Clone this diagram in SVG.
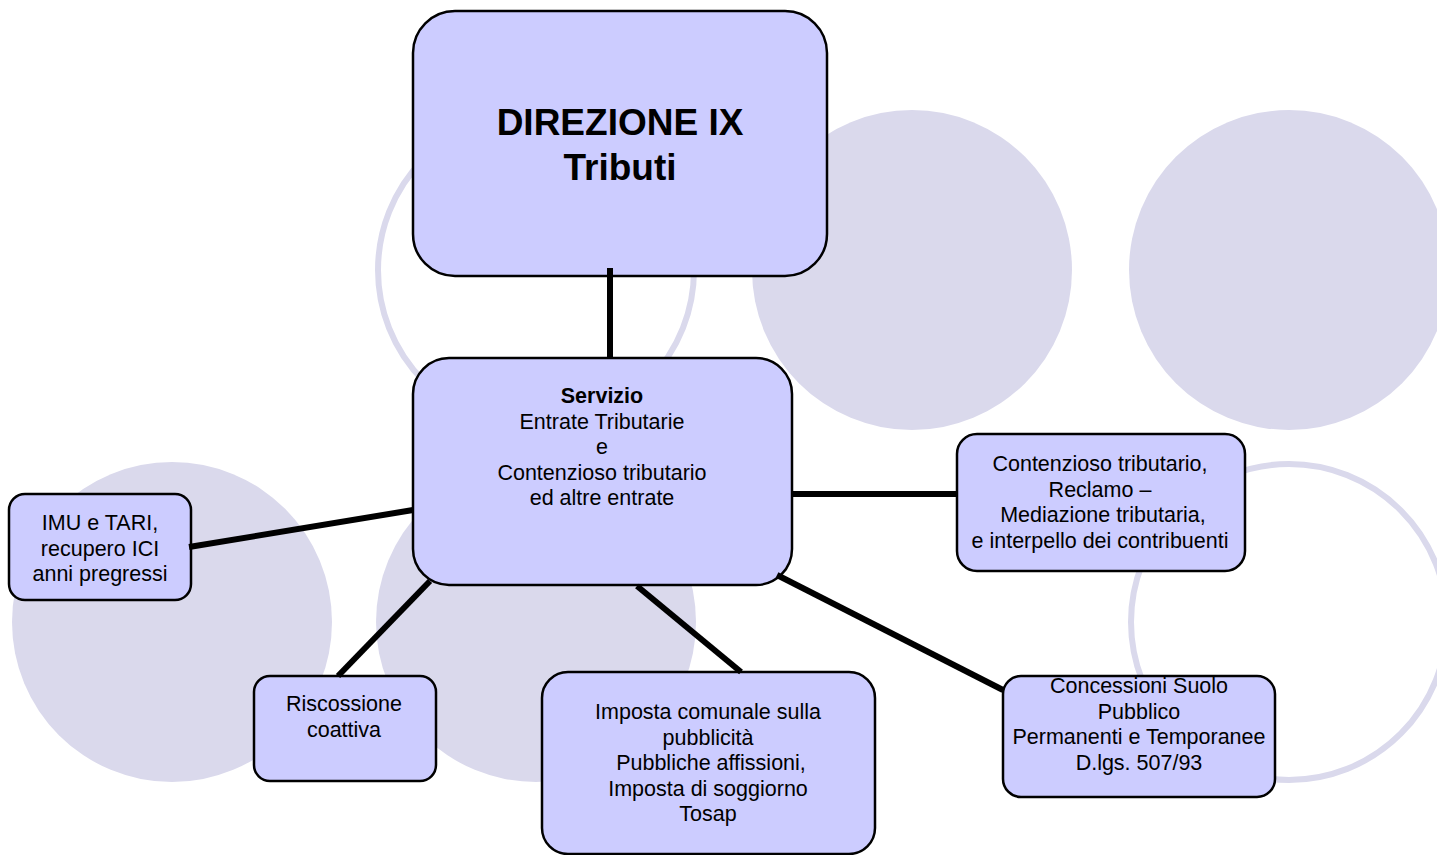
<svg xmlns="http://www.w3.org/2000/svg" width="1437" height="855" viewBox="0 0 1437 855">
<style>
.bg{fill:#DAD9EC}
.ring{fill:none;stroke:#DAD9EC;stroke-width:6}
.box{fill:#CCCCFF;stroke:#000;stroke-width:2.5}
.t{font-family:"Liberation Sans",Arial,sans-serif;font-size:21.5px;fill:#000;text-anchor:middle}
.b{font-weight:bold}
.h{font-size:37px;font-weight:bold}
.c{stroke:#000;stroke-width:6;fill:none}
</style>
<rect width="1437" height="855" fill="#fff"/>
<g id="background">
<circle class="ring" cx="536" cy="270" r="158"/>
<circle class="bg" cx="912" cy="270" r="160"/>
<circle class="bg" cx="1289" cy="270" r="160"/>
<circle class="bg" cx="172" cy="622" r="160"/>
<circle class="bg" cx="536" cy="622" r="160"/>
<circle class="ring" cx="1289" cy="622" r="158"/>
</g>
<g id="n-direzione">
<rect class="box" x="413" y="11" width="414" height="265" rx="42"/>
<text class="t h" x="620" y="135">DIREZIONE IX</text>
<text class="t h" x="620" y="180">Tributi</text>
</g>
<g id="n-servizio">
<rect class="box" x="413" y="358" width="379" height="227" rx="36"/>
<text class="t" x="602" y="403"><tspan class="b">Servizio</tspan><tspan x="602" dy="25.5">Entrate Tributarie</tspan><tspan x="602" dy="25.5">e</tspan><tspan x="602" dy="25.5">Contenzioso tributario</tspan><tspan x="602" dy="25.5">ed altre entrate</tspan></text>
</g>
<g id="n-imu">
<rect class="box" x="9" y="494" width="182" height="106" rx="16"/>
<text class="t" x="100" y="530">IMU e TARI,<tspan x="100" dy="25.5">recupero ICI</tspan><tspan x="100" dy="25.5">anni pregressi</tspan></text>
</g>
<g id="n-riscossione">
<rect class="box" x="254" y="676" width="182" height="105" rx="16"/>
<text class="t" x="344" y="711">Riscossione<tspan x="344" dy="25.5">coattiva</tspan></text>
</g>
<g id="n-imposta">
<rect class="box" x="542" y="672" width="333" height="182" rx="26"/>
<text class="t" x="708" y="719">Imposta comunale sulla<tspan x="708" dy="25.5">pubblicità</tspan><tspan x="708" dy="25.5"> Pubbliche affissioni,</tspan><tspan x="708" dy="25.5">Imposta di soggiorno</tspan><tspan x="708" dy="25.5">Tosap</tspan></text>
</g>
<g id="n-contenzioso">
<rect class="box" x="957" y="434" width="288" height="137" rx="20"/>
<text class="t" x="1100" y="471">Contenzioso tributario,<tspan x="1100" dy="25.5">Reclamo –</tspan><tspan x="1100" dy="25.5"> Mediazione tributaria,</tspan><tspan x="1100" dy="25.5">e interpello dei contribuenti</tspan></text>
</g>
<g id="n-concessioni">
<rect class="box" x="1003" y="676" width="272" height="121" rx="18"/>
<text class="t" x="1139" y="693">Concessioni Suolo<tspan x="1139" dy="25.5">Pubblico</tspan><tspan x="1139" dy="25.5">Permanenti e Temporanee</tspan><tspan x="1139" dy="25.5">D.lgs. 507/93</tspan></text>
</g>
<g id="connectors">
<line class="c" x1="610" y1="268" x2="610" y2="358"/>
<line class="c" x1="413" y1="510" x2="189" y2="547"/>
<line class="c" x1="430" y1="581" x2="338" y2="676"/>
<line class="c" x1="637" y1="586" x2="741" y2="672"/>
<line class="c" x1="777" y1="575" x2="1003" y2="690"/>
<line class="c" x1="792" y1="494" x2="957" y2="494"/>
</g>
</svg>
